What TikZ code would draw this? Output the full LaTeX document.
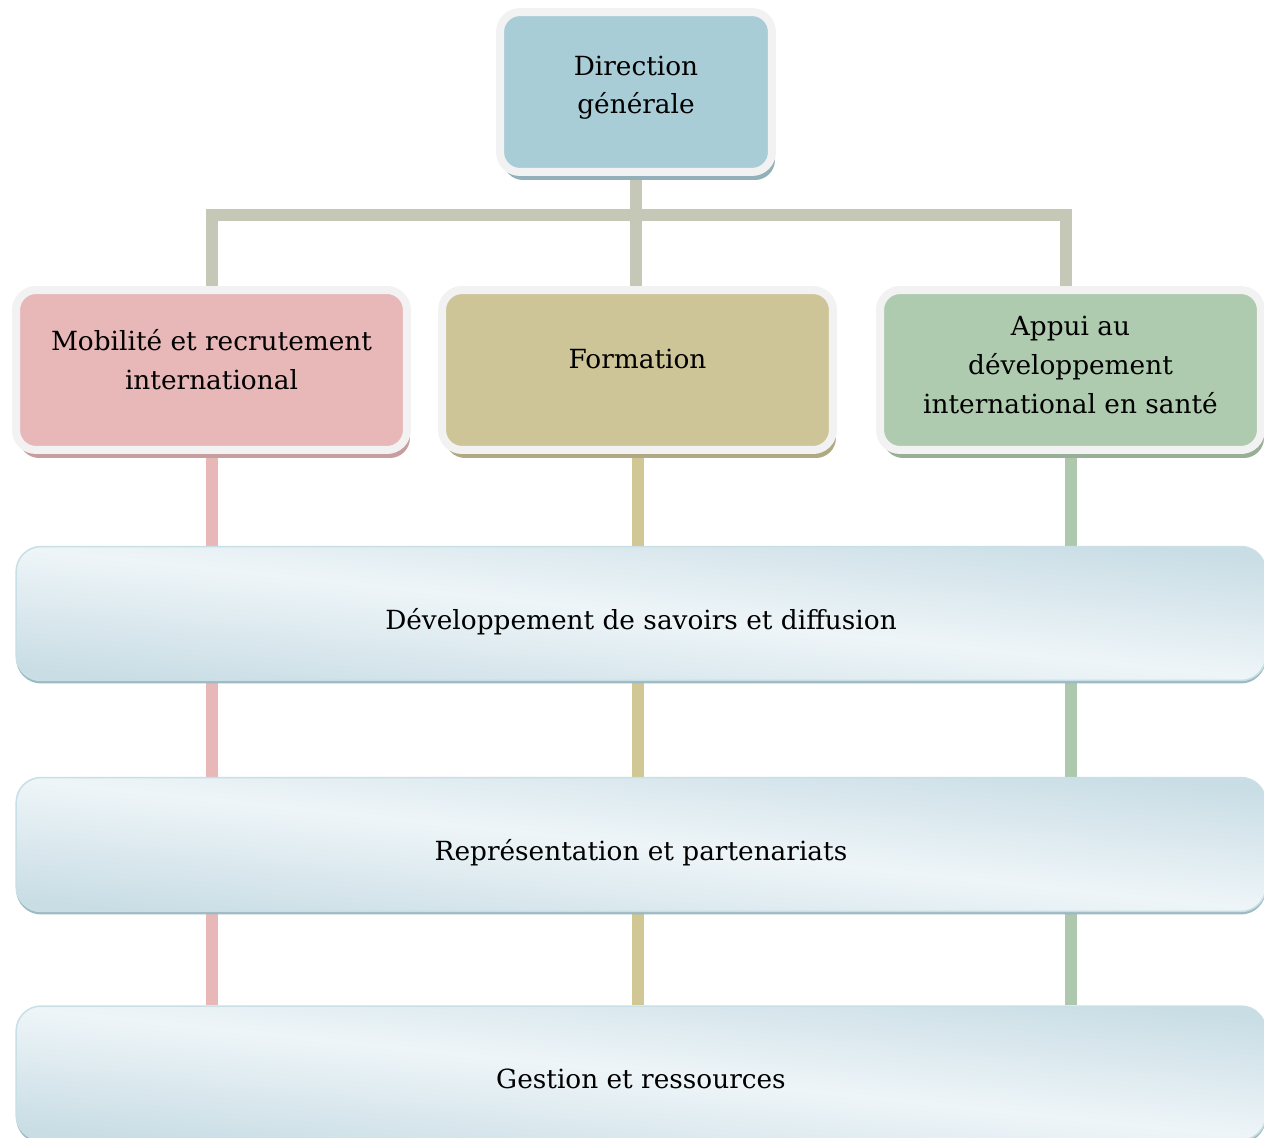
\documentclass[tikz,border=0pt]{standalone}
\usepackage{fontspec}
\setmainfont{DejaVu Serif}
\usetikzlibrary{shadows,backgrounds,positioning}
\definecolor{frameColor}{HTML}{F2F2F2}
\definecolor{dgColor}{HTML}{A9CDD7}
\definecolor{mobColor}{HTML}{E8B7B8}
\definecolor{formColor}{HTML}{CDC598}
\definecolor{appColor}{HTML}{AFCBAF}
\definecolor{trunkColor}{HTML}{C5C7B7}
\definecolor{mobLine}{HTML}{E8B8B8}
\definecolor{formLine}{HTML}{D1C794}
\definecolor{appLine}{HTML}{ADC8AC}
\definecolor{wideDark}{HTML}{C9DDE5}
\definecolor{wideLight}{HTML}{EEF5F8}
\definecolor{wideEdge}{HTML}{C8DFE6}
\definecolor{wideShadow}{HTML}{9DB9C1}
\tikzset{
  unitbox/.style={rounded corners=0.4cm, line width=0.16cm, draw=frameColor, fill=#1,
    minimum width=7.82cm, minimum height=3.2cm, align=center,
    font=\fontsize{15}{22}\selectfont,
    drop shadow={shadow xshift=0.06cm, shadow yshift=-0.16cm, fill=#1!86!black, opacity=1}},
  widebox/.style={rounded corners=0.5cm, line width=0.03cm, draw=wideEdge,
    top color=wideDark, bottom color=wideDark, middle color=wideLight, shading angle=-6,
    minimum width=25cm, minimum height=2.68cm,
    font=\fontsize{15}{22}\selectfont, text height=21pt, text depth=3pt,
    drop shadow={shadow xshift=0cm, shadow yshift=-0.06cm, fill=wideShadow, opacity=1}},
  trunk/.style={line width=0.24cm, draw=trunkColor},
  link/.style={line width=0.24cm, draw=#1},
}
\begin{document}
\begin{tikzpicture}[x=0.02cm,y=-0.02cm]
\useasboundingbox (0,0) rectangle (1264,1138);
% top
\node[unitbox=dgColor, minimum width=5.44cm, text depth=8pt] (dg) at (636,92) {Direction\\générale};
% units
\node[unitbox=mobColor, text depth=12pt] (mob) at (211.5,370) {Mobilité et recrutement\\international};
\node[unitbox=formColor, text depth=13pt] (form) at (637.5,370) {Formation};
\node[unitbox=appColor, minimum width=7.62cm, text depth=6pt] (app) at (1070.5,370) {Appui au\\développement\\international en santé};
\coordinate (hub) at (636,215);
% transverse functions
\node[widebox] (dev) at (641,613.5) {Développement de savoirs et diffusion};
\node[widebox] (rep) at (641,844.5) {Représentation et partenariats};
\node[widebox] (gest) at (641,1073) {Gestion et ressources};
\begin{scope}[on background layer]
  \draw[trunk] (dg.south) -- (dg.south |- form.north);
  \draw[trunk] (mob.north) |- (hub) -| ([xshift=-0.1cm]app.north);
  \draw[link=mobLine] (mob.south) -- (gest.north -| mob.south);
  \draw[link=formLine] (form.south) -- (gest.north -| form.south);
  \draw[link=appLine] (app.south) -- (gest.north -| app.south);
\end{scope}
\end{tikzpicture}
\end{document}
